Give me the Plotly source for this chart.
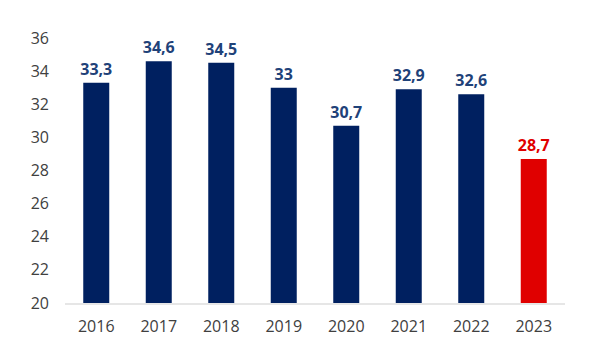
import plotly.graph_objects as go

years = ["2016", "2017", "2018", "2019", "2020", "2021", "2022", "2023"]
values = [33.3, 34.6, 34.5, 33.0, 30.7, 32.9, 32.6, 28.7]
labels = ["33,3", "34,6", "34,5", "33", "30,7", "32,9", "32,6", "28,7"]
bar_colors = ["#002060"] * 7 + ["#E00000"]
label_colors = ["#1F4279"] * 7 + ["#E00000"]
y_ticks = [20, 22, 24, 26, 28, 30, 32, 34, 36]

fig = go.Figure()
fig.add_trace(go.Bar(
    x=years, y=values,
    marker=dict(color=bar_colors, line=dict(width=0)),
    text=labels, textposition="outside", constraintext="none",
    textfont=dict(family="Open Sans, sans-serif", size=16, color=label_colors, weight="bold"),
    cliponaxis=False,
))
# page body has an 8px margin, so the figure is shifted by 8px right/down
fig.update_layout(
    width=584, height=354,
    margin=dict(l=57, r=27, t=30, b=59, autoexpand=False),
    paper_bgcolor="white", plot_bgcolor="white",
    bargap=0.584,
    showlegend=False,
    font=dict(family="Open Sans, sans-serif", size=16, color="#404040"),
)
fig.update_yaxes(
    range=[20, 36], tickvals=y_ticks, ticktext=[str(t) for t in y_ticks],
    showgrid=False, zeroline=False, showline=False, ticks="", ticklabelstandoff=15,
    tickfont=dict(size=16, color="#404040"), automargin=False,
)
fig.update_xaxes(
    showgrid=False, showline=True, linecolor="#E6E6E6", linewidth=1.5,
    ticks="", ticklabelstandoff=8, automargin=False,
    tickfont=dict(size=16, color="#404040"),
)
fig.write_html("out.html")
